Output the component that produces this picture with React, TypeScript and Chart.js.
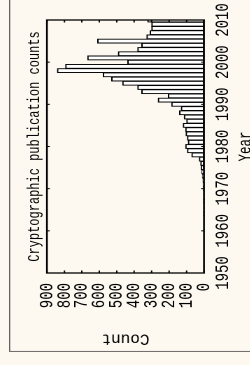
import React, { useEffect, useRef } from 'react';
import { Chart, registerables } from 'chart.js';

Chart.register(...registerables);

// ---- data ----
const years = [
  1950, 1951, 1952, 1953, 1954, 1955, 1956, 1957, 1958, 1959,
  1960, 1961, 1962, 1963, 1964, 1965, 1966, 1967, 1968, 1969,
  1970, 1971, 1972, 1973, 1974, 1975, 1976, 1977, 1978, 1979,
  1980, 1981, 1982, 1983, 1984, 1985, 1986, 1987, 1988, 1989,
  1990, 1991, 1992, 1993, 1994, 1995, 1996, 1997, 1998, 1999,
  2000, 2001, 2002, 2003, 2004, 2005, 2006, 2007, 2008, 2009,
  2010,
];
const counts = [
  0, 0, 0, 0, 0, 0, 0, 0, 0, 0,
  1, 0, 1, 1, 3, 1, 1, 3, 1, 2,
  3, 5, 6, 9, 13, 17, 19, 27, 70, 95,
  105, 90, 95, 103, 105, 119, 99, 113, 140, 130,
  185, 262, 204, 357, 380, 466, 529, 577, 840, 793,
  437, 667, 491, 380, 357, 609, 328, 309, 300, 300,
  323,
];
const yearTickValues = [1950, 1960, 1970, 1980, 1990, 2000, 2010];
const yearTickLabels = ['1950', '1960', '1970', '1980', '1990', '2000', '2010'];
const countTickValues = [0, 100, 200, 300, 400, 500, 600, 700, 800, 900];
const countTickLabels = ['0', '100', '200', '300', '400', '500', '600', '700', '800', '900'];
const titleText = 'Cryptographic publication counts';
const xTitleText = 'Year';
const yTitleText = 'Count';

// ---- layout (unrotated chart; the whole figure is turned a quarter turn) ----
const W = 400;
const H = 185;
const STRETCH = 1.4;
const BG = '#fdf9f1';
const MONO = '"Liberation Mono", "Courier New", monospace';

export default function App() {
  const ref = useRef<HTMLCanvasElement | null>(null);

  useEffect(() => {
    if (!ref.current) return;

    const framePlugin = {
      id: 'framePlugin',
      beforeDraw(chart: any) {
        const ctx = chart.ctx;
        ctx.save();
        ctx.fillStyle = BG;
        ctx.fillRect(0, 0, chart.width, chart.height);
        ctx.strokeStyle = '#5a5a5a';
        ctx.lineWidth = 0.9;
        ctx.beginPath();
        ctx.moveTo(0.6, chart.height);
        ctx.lineTo(0.6, 0.4);
        ctx.lineTo(chart.width, 0.4);
        ctx.stroke();
        ctx.restore();
      },
      afterDraw(chart: any) {
        const { ctx, chartArea: a, scales } = chart;
        const xs = scales.x;
        const ys = scales.y;
        ctx.save();
        ctx.strokeStyle = '#000';
        ctx.lineWidth = 1;
        ctx.beginPath();
        for (const t of xs.ticks) {
          const p = xs.getPixelForValue(t.value);
          ctx.moveTo(p, a.bottom);
          ctx.lineTo(p, a.bottom - 2);
          ctx.moveTo(p, a.top);
          ctx.lineTo(p, a.top + 2);
        }
        for (const t of ys.ticks) {
          const p = ys.getPixelForValue(t.value);
          ctx.moveTo(a.left, p);
          ctx.lineTo(a.left + 2.5, p);
          ctx.moveTo(a.right, p);
          ctx.lineTo(a.right - 2.5, p);
        }
        ctx.stroke();
        ctx.lineWidth = 1.3;
        ctx.strokeRect(a.left, a.top, a.right - a.left, a.bottom - a.top);

        // y-axis title
        ctx.translate(13.3, (a.top + a.bottom) / 2);
        ctx.rotate(-Math.PI / 2);
        ctx.scale(1 / STRETCH, 1);
        ctx.font = `16px ${MONO}`;
        ctx.fillStyle = '#000';
        ctx.textAlign = 'center';
        ctx.textBaseline = 'middle';
        ctx.fillText(yTitleText, 0, 0);
        ctx.restore();
      },
    };

    const chart = new Chart(ref.current, {
      type: 'bar',
      data: {
        datasets: [
          {
            data: years.map((yr, i) => ({ x: yr, y: counts[i] })),
            backgroundColor: '#ffffff',
            borderColor: '#000000',
            borderWidth: 1,
            borderSkipped: false,
            barPercentage: 1,
            categoryPercentage: 1,
            clip: 0,
          } as any,
        ],
      },
      options: {
        animation: false,
        responsive: false,
        devicePixelRatio: 2,
        layout: { padding: { left: 0, right: W - 332, top: 0, bottom: 0 } },
        plugins: {
          legend: { display: false },
          tooltip: { enabled: false },
          title: {
            display: true,
            text: titleText,
            fullSize: false,
            color: '#000',
            font: { family: MONO, size: 12, weight: 'normal' },
            padding: { top: 11, bottom: 1.7 },
          },
        },
        scales: {
          x: {
            type: 'linear',
            offset: false,
            min: 1950,
            max: 2010,
            grid: { display: false, drawTicks: false, offset: false },
            border: { display: false },
            ticks: {
              stepSize: 10,
              autoSkip: false,
              maxRotation: 0,
              padding: 5,
              color: '#000',
              font: { family: MONO, size: 14 },
              callback: (v: any) => {
                const i = yearTickValues.indexOf(Number(v));
                return i >= 0 ? yearTickLabels[i] : '';
              },
            },
            title: {
              display: true,
              text: xTitleText,
              color: '#000',
              font: { family: MONO, size: 12.5 },
              padding: { top: 0, bottom: 8.5 },
            },
            afterFit: (s: any) => {
              s.height = H - 139.3;
              s.paddingLeft = 0;
              s.paddingRight = 0;
            },
          },
          y: {
            type: 'linear',
            min: 0,
            max: 900,
            grid: { display: false, drawTicks: false },
            border: { display: false },
            ticks: {
              stepSize: 100,
              autoSkip: false,
              padding: 10,
              color: '#000',
              font: { family: MONO, size: 14 },
              callback: (v: any) => {
                const i = countTickValues.indexOf(Number(v));
                return i >= 0 ? countTickLabels[i] : '';
              },
            },
            afterFit: (s: any) => {
              s.width = 79;
              s.paddingTop = 0;
              s.paddingBottom = 0;
            },
          },
        },
      } as any,
      plugins: [framePlugin],
    });

    return () => chart.destroy();
  }, []);

  return (
    <div
      style={{
        position: 'fixed',
        left: 0,
        top: 0,
        width: 250,
        height: 365,
        overflow: 'hidden',
        background: BG,
      }}
    >
      <div
        style={{
          position: 'absolute',
          left: 0,
          top: 0,
          width: W,
          height: H,
          transformOrigin: '0 0',
          transform: `translate(9px, 352px) rotate(-90deg) scale(1, ${STRETCH})`,
        }}
      >
        <canvas ref={ref} width={W} height={H} style={{ width: W, height: H, display: 'block' }} />
      </div>
    </div>
  );
}
